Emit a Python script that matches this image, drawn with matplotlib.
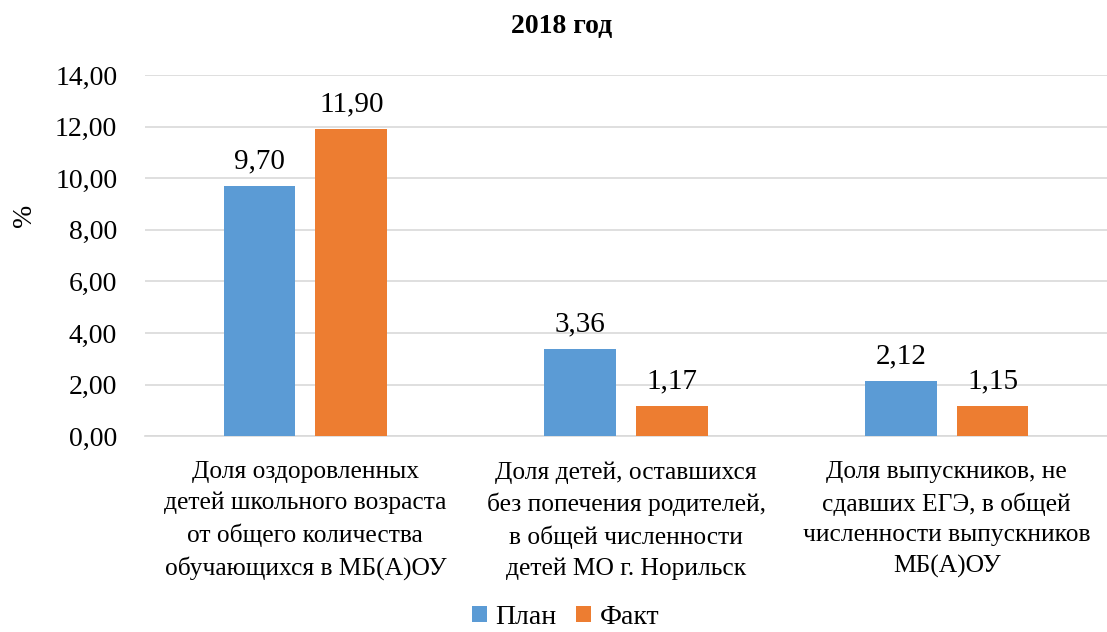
import matplotlib.pyplot as plt
import numpy as np

categories = [
    "Доля оздоровленных\nдетей школьного возраста\nот общего количества\nобучающихся в МБ(А)ОУ",
    "Доля детей, оставшихся\nбез попечения родителей,\nв общей численности\nдетей МО г. Норильск",
    "Доля выпускников, не\nсдавших ЕГЭ, в общей\nчисленности выпускников\nМБ(А)ОУ",
]
plan = [9.70, 3.36, 2.12]
fact = [11.90, 1.17, 1.15]
yticks = [0, 2, 4, 6, 8, 10, 12, 14]

BLUE = "#5B9BD5"
ORANGE = "#ED7D31"

plt.rcParams["font.family"] = ["Liberation Serif", "DejaVu Serif"]

fig = plt.figure(figsize=(11.07, 6.32), dpi=100)
ax = fig.add_axes([0.131, 0.310, 0.869, 0.571])

x = np.arange(len(categories))
w = 0.224
gap = 0.062
ax.bar(x - (w + gap) / 2, plan, w, color=BLUE, label="План", zorder=3)
ax.bar(x + (w + gap) / 2, fact, w, color=ORANGE, label="Факт", zorder=3)

fmt = lambda v: f"{v:.2f}".replace(".", ",")
for xi, p, f in zip(x, plan, fact):
    ax.text(xi - (w + gap) / 2, p + 0.45, fmt(p), ha="center", va="bottom", fontsize=21)
    ax.text(xi + (w + gap) / 2, f + 0.45, fmt(f), ha="center", va="bottom", fontsize=21)

ax.set_xlim(-0.5, 2.5)
ax.set_ylim(0, 14)
ax.set_yticks(yticks)
ax.set_yticklabels([fmt(v) for v in yticks], fontsize=20)
ax.set_xticks(x)
ax.set_xticklabels(categories, fontsize=18.4, linespacing=1.5)
ax.tick_params(axis="both", length=0)
ax.tick_params(axis="x", pad=18)
ax.tick_params(axis="y", pad=20)
ax.yaxis.grid(True, color="#d9d9d9", linewidth=1.2, zorder=0)
for s in ["top", "right", "left"]:
    ax.spines[s].set_visible(False)
ax.spines["bottom"].set_color("#d9d9d9")
ax.spines["bottom"].set_linewidth(1.2)

fig.text(25 / 1107, 1 - 215 / 632, "%", rotation=90, fontsize=20,
         ha="center", va="center")
fig.text(0.507, 1 - 27 / 632, "2018 год", fontsize=20, fontweight="bold",
         ha="center", va="center")

fig.legend(loc="lower center", bbox_to_anchor=(0.511, -0.036), ncol=2, frameon=False,
           fontsize=20, handlelength=0.55, handleheight=0.55, handletextpad=0.3,
           columnspacing=0.7)

fig.savefig("out.png", dpi=100)
